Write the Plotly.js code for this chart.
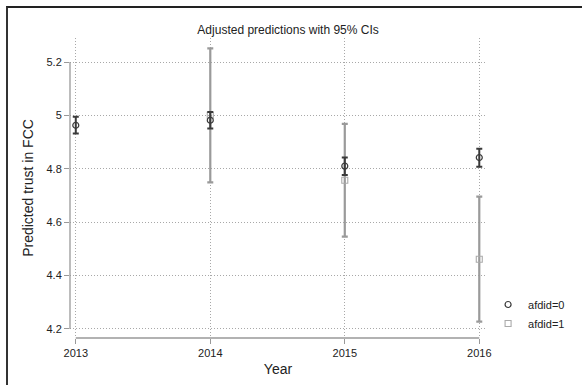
<!DOCTYPE html>
<html>
<head>
<meta charset="utf-8">
<script src="https://cdn.plot.ly/plotly-3.0.1.min.js"></script>
<style>
  html, body { margin: 0; padding: 0; background: #fff; }
  #wrap { position: relative; width: 582px; height: 385px; overflow: hidden; }
  #chart { width: 582px; height: 385px; }
  #frame { position: absolute; left: 6px; top: 6px; width: 600px; height: 400px;
           border-top: 2px solid #222; border-left: 2px solid #333; pointer-events: none; }
</style>
</head>
<body>
<div id="wrap">
  <div id="chart"></div>
  <div id="frame"></div>
</div>
<script>
const years = [2013, 2014, 2015, 2016];
const seriesNames = ["afdid=0", "afdid=1"];
// afdid=0
const pred0 = [4.963, 4.982, 4.810, 4.842];
const lo0   = [4.932, 4.951, 4.777, 4.808];
const hi0   = [4.995, 5.013, 4.842, 4.875];
// afdid=1 (no estimate in 2013)
const pred1 = [null, 5.000, 4.757, 4.461];
const lo1   = [null, 4.749, 4.546, 4.227];
const hi1   = [null, 5.251, 4.968, 4.696];
const yTicks = [4.2, 4.4, 4.6, 4.8, 5, 5.2];
const yTickText = ["4.2", "4.4", "4.6", "4.8", "5", "5.2"];

const dark = "#3a3a3a";
const gray = "#9a9a9a";

const plus = (hi, p) => hi.map((h, i) => (h === null ? null : h - p[i]));
const minus = (lo, p) => p.map((v, i) => (v === null ? null : v - lo[i]));

const traces = [
  {
    x: years, y: pred1, name: seriesNames[1], type: "scatter", mode: "markers",
    marker: { symbol: "square-open", size: 6, color: "#aaaaaa", line: { width: 1.1, color: "#aaaaaa" } },
    error_y: { type: "data", symmetric: false, array: plus(hi1, pred1), arrayminus: minus(lo1, pred1),
               color: gray, thickness: 2.2, width: 3 },
    legendrank: 2
  },
  {
    x: years, y: pred0, name: seriesNames[0], type: "scatter", mode: "markers",
    marker: { symbol: "circle-open", size: 6, color: dark, line: { width: 1.2, color: dark } },
    error_y: { type: "data", symmetric: false, array: plus(hi0, pred0), arrayminus: minus(lo0, pred0),
               color: dark, thickness: 2, width: 3 },
    legendrank: 1
  }
];

const layout = {
  width: 582, height: 385,
  margin: { l: 70, r: 82, t: 38, b: 47 },
  paper_bgcolor: "#ffffff", plot_bgcolor: "#ffffff",
  font: { family: "Liberation Sans, Arial, sans-serif", color: "#222", size: 11 },
  title: { text: "Adjusted predictions with 95% CIs", x: 0.495, xanchor: "center", y: 0.922, yanchor: "middle",
           font: { size: 12, color: "#222" } },
  showlegend: true,
  legend: { x: 1.005, xanchor: "left", y: 0.08, yanchor: "middle", font: { size: 11, color: "#222" },
            bgcolor: "rgba(0,0,0,0)", itemwidth: 30, tracegroupgap: 0 },
  xaxis: {
    range: [2012.957, 2016.05], tickvals: years, ticktext: years.map(String),
    showgrid: true, gridcolor: "#a8a8a8", griddash: "1px,2px", gridwidth: 1,
    zeroline: false, showline: false, ticks: "outside", ticklen: 5, tickcolor: "#999",
    tickfont: { size: 11, color: "#222" },
    title: { text: "Year", font: { size: 14, color: "#222" }, standoff: 5 }
  },
  yaxis: {
    range: [4.166, 5.29], tickvals: yTicks, ticktext: yTickText,
    showgrid: true, gridcolor: "#a8a8a8", griddash: "1px,2px", gridwidth: 1,
    zeroline: false, showline: false, ticks: "outside", ticklen: 5, tickcolor: "#999",
    tickfont: { size: 11, color: "#222" },
    title: { text: "Predicted trust in FCC", font: { size: 14, color: "#222" }, standoff: 9 }
  },
  shapes: [
    { type: "line", xref: "x", yref: "paper", x0: years[0], x1: years[years.length - 1], y0: 0, y1: 0,
      line: { color: "#999", width: 1.3 } },
    { type: "line", xref: "paper", yref: "y", x0: 0, x1: 0, y0: yTicks[0], y1: yTicks[yTicks.length - 1],
      line: { color: "#999", width: 1.3 } }
  ]
};

Plotly.newPlot("chart", traces, layout, { staticPlot: true, displayModeBar: false });
</script>
</body>
</html>
